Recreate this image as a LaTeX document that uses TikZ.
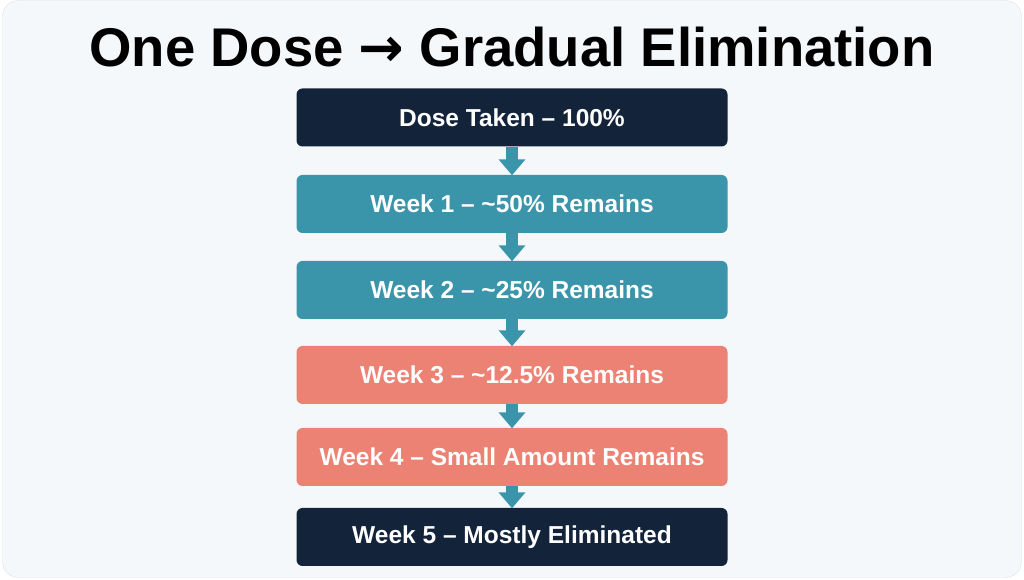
\documentclass[tikz,border=0pt]{standalone}
\usepackage{fontspec}
\setmainfont{Liberation Sans}
\newfontfamily\arrowfont{DejaVu Sans}
\usetikzlibrary{positioning}
\usetikzlibrary{arrows.meta}
\definecolor{navy}{HTML}{13233A}
\definecolor{teal}{HTML}{3A95AB}
\definecolor{salmon}{HTML}{EC8274}
\definecolor{panel}{HTML}{F5F8FB}
\definecolor{rim}{HTML}{DCE2E7}

\tikzset{
	stage/.style={rounded corners=6pt,minimum width=431pt,minimum height=58pt,inner sep=0pt,
		text=white,font=\bfseries\fontsize{24.5}{29}\selectfont},
	flow/.style={teal,line width=12pt,-{Triangle[width=26pt,length=16pt]},shorten >=-0.5pt}
}

\begin{document}
\begin{tikzpicture}[x=1pt,y=1pt]
\useasboundingbox (0,0) rectangle (1024,580);
	\draw[rim,fill=panel,rounded corners=16pt] (2.5,2.5) rectangle (1021.5,579.5);

	% title
	\node[font=\bfseries\fontsize{54.5}{60}\selectfont] (title) at (512,533) {One Dose {\arrowfont\bfseries →} Gradual Elimination};

	% stages
	\foreach \i/\y/\c/\t in {0/462.5/navy/{Dose Taken -- 100\%},
		1/376/teal/{Week 1 -- \textasciitilde50\% Remains},
		2/290/teal/{Week 2 -- \textasciitilde25\% Remains},
		3/205/salmon/{Week 3 -- \textasciitilde12.5\% Remains},
		4/123/salmon/{Week 4 -- Small Amount Remains},
		5/43/navy/{Week 5 -- Mostly Eliminated}}
		\node[stage,fill=\c] (step\i) at (512,\y) {\t};

	% connectors
	\foreach \i [evaluate=\i as \j using int(\i+1)] in {0,...,4}
		\draw[flow] (step\i) -- (step\j);
\end{tikzpicture}
\end{document}
